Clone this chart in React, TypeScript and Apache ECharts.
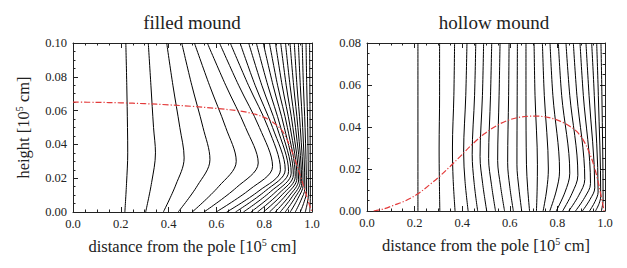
import React, { useEffect, useRef } from 'react';
import * as echarts from 'echarts';

const panelTitles = ['filled mound', 'hollow mound'];
const xAxisTitle = '{n|distance from the pole [10}{s|5}{n| cm]}';
const yAxisTitle = '{n|height [10}{s|5}{n| cm]}';
const xTickLabels = ['0.0', '0.2', '0.4', '0.6', '0.8', '1.0'];
const yTickLabelsFilled = ['0.00', '0.02', '0.04', '0.06', '0.08', '0.10'];
const yTickLabelsHollow = ['0.00', '0.02', '0.04', '0.06', '0.08'];

// filled mound: field lines, [distance, height]
const filledLines: number[][][] = [
  [[0.221, 0.1], [0.225, 0.075], [0.228, 0.05], [0.229, 0.035], [0.224, 0.017], [0.217, 0]],
  [[0.315, 0.1], [0.326, 0.075], [0.337, 0.05], [0.345, 0.035], [0.329, 0.0175], [0.304, 0]],
  [[0.392, 0.1], [0.418, 0.075], [0.447, 0.05], [0.465, 0.032], [0.43, 0.016], [0.378, 0]],
  [[0.455, 0.1], [0.497, 0.075], [0.544, 0.05], [0.573, 0.031], [0.52, 0.0155], [0.44, 0]],
  [[0.508, 0.1], [0.571, 0.075], [0.639, 0.05], [0.683, 0.03], [0.609, 0.015], [0.499, 0]],
  [[0.562, 0.1], [0.639, 0.075], [0.722, 0.05], [0.775, 0.029], [0.684, 0.0145], [0.548, 0]],
  [[0.613, 0.1], [0.693, 0.075], [0.78, 0.05], [0.835, 0.027], [0.741, 0.0135], [0.599, 0]],
  [[0.658, 0.1], [0.734, 0.075], [0.816, 0.05], [0.868, 0.025], [0.778, 0.0125], [0.643, 0]],
  [[0.699, 0.1], [0.762, 0.075], [0.835, 0.05], [0.888, 0.025], [0.805, 0.0125], [0.68, 0]],
  [[0.735, 0.1], [0.79, 0.075], [0.854, 0.05], [0.902, 0.024], [0.826, 0.012], [0.713, 0]],
  [[0.767, 0.1], [0.815, 0.075], [0.869, 0.05], [0.913, 0.023], [0.845, 0.0115], [0.744, 0]],
  [[0.796, 0.1], [0.837, 0.075], [0.884, 0.05], [0.922, 0.022], [0.862, 0.011], [0.772, 0]],
  [[0.822, 0.1], [0.856, 0.075], [0.897, 0.05], [0.93, 0.021], [0.877, 0.0105], [0.797, 0]],
  [[0.847, 0.1], [0.875, 0.075], [0.909, 0.05], [0.937, 0.02], [0.891, 0.01], [0.822, 0]],
  [[0.869, 0.1], [0.892, 0.075], [0.92, 0.05], [0.944, 0.019], [0.905, 0.0095], [0.846, 0]],
  [[0.889, 0.1], [0.908, 0.075], [0.931, 0.05], [0.951, 0.018], [0.917, 0.009], [0.867, 0]],
  [[0.908, 0.1], [0.923, 0.075], [0.941, 0.05], [0.957, 0.017], [0.929, 0.0085], [0.888, 0]],
  [[0.926, 0.1], [0.937, 0.075], [0.951, 0.05], [0.963, 0.016], [0.941, 0.008], [0.909, 0]],
  [[0.943, 0.1], [0.951, 0.075], [0.961, 0.05], [0.97, 0.014], [0.954, 0.007], [0.93, 0]],
  [[0.959, 0.1], [0.964, 0.075], [0.971, 0.05], [0.977, 0.012], [0.967, 0.006], [0.951, 0]],
  [[0.975, 0.1], [0.978, 0.075], [0.982, 0.05], [0.985, 0.01], [0.98, 0.005], [0.972, 0]],
  [[0.99, 0.1], [0.991, 0.075], [0.992, 0.05], [0.993, 0.008], [0.992, 0.004], [0.99, 0]],
];

const filledSurface: number[][] = [
  [0, 0.065], [0.1, 0.0649], [0.2, 0.0646], [0.3, 0.0641], [0.4, 0.0634], [0.5, 0.0625],
  [0.6, 0.0613], [0.7, 0.0597], [0.75, 0.0583], [0.8, 0.056], [0.84, 0.0527], [0.87, 0.049],
  [0.89, 0.0445], [0.91, 0.038], [0.93, 0.0305], [0.95, 0.022], [0.97, 0.013], [0.985, 0.006], [1.0, 0],
];

// hollow mound: field lines, [distance, height]
const hollowLines: number[][][] = [
  [[0.214, 0.08], [0.214, 0.055], [0.214, 0.03], [0.214, 0.015], [0.214, 0]],
  [[0.305, 0.08], [0.305, 0.055], [0.303, 0.03], [0.304, 0.015], [0.306, 0]],
  [[0.368, 0.08], [0.365, 0.055], [0.359, 0.03], [0.362, 0.015], [0.37, 0]],
  [[0.42, 0.08], [0.415, 0.055], [0.406, 0.028], [0.412, 0.014], [0.425, 0]],
  [[0.457, 0.08], [0.452, 0.055], [0.442, 0.027], [0.45, 0.0135], [0.465, 0]],
  [[0.49, 0.08], [0.485, 0.055], [0.475, 0.026], [0.486, 0.013], [0.503, 0]],
  [[0.524, 0.08], [0.519, 0.055], [0.511, 0.025], [0.523, 0.0125], [0.54, 0]],
  [[0.559, 0.08], [0.555, 0.055], [0.549, 0.024], [0.561, 0.012], [0.578, 0]],
  [[0.597, 0.08], [0.595, 0.055], [0.591, 0.023], [0.6, 0.0115], [0.615, 0]],
  [[0.632, 0.08], [0.631, 0.055], [0.63, 0.022], [0.638, 0.011], [0.65, 0]],
  [[0.668, 0.08], [0.668, 0.055], [0.67, 0.022], [0.675, 0.011], [0.683, 0]],
  [[0.702, 0.08], [0.706, 0.055], [0.716, 0.022], [0.715, 0.011], [0.712, 0]],
  [[0.737, 0.08], [0.745, 0.055], [0.762, 0.02], [0.755, 0.01], [0.74, 0]],
  [[0.769, 0.08], [0.781, 0.055], [0.809, 0.019], [0.795, 0.0095], [0.768, 0]],
  [[0.804, 0.08], [0.818, 0.055], [0.852, 0.018], [0.832, 0.009], [0.795, 0]],
  [[0.836, 0.08], [0.852, 0.055], [0.886, 0.017], [0.862, 0.0085], [0.822, 0]],
  [[0.867, 0.08], [0.882, 0.055], [0.915, 0.015], [0.89, 0.0075], [0.848, 0]],
  [[0.895, 0.08], [0.909, 0.055], [0.939, 0.013], [0.915, 0.0065], [0.876, 0]],
  [[0.92, 0.08], [0.933, 0.055], [0.957, 0.011], [0.937, 0.0055], [0.905, 0]],
  [[0.944, 0.08], [0.955, 0.055], [0.971, 0.009], [0.958, 0.0045], [0.935, 0]],
  [[0.965, 0.08], [0.972, 0.055], [0.982, 0.007], [0.975, 0.0035], [0.96, 0]],
  [[0.983, 0.08], [0.987, 0.055], [0.992, 0.005], [0.989, 0.0025], [0.985, 0]],
];

const hollowSurface: number[][] = [
  [0.028, 0], [0.07, 0.001], [0.112, 0.0027], [0.16, 0.0048], [0.214, 0.0082], [0.26, 0.0122],
  [0.305, 0.0165], [0.35, 0.0213], [0.392, 0.026], [0.44, 0.0315], [0.49, 0.0365], [0.55, 0.041],
  [0.6, 0.0435], [0.65, 0.0448], [0.706, 0.0452], [0.76, 0.0446], [0.811, 0.0428], [0.85, 0.0405],
  [0.88, 0.038], [0.91, 0.0335], [0.937, 0.027], [0.955, 0.021], [0.97, 0.0145], [0.982, 0.008],
  [0.992, 0.0025], [0.996, 0],
];

const FONT = 'Liberation Serif';
const INK = '#222';
const RED = '#e33a3a';

const richName = {
  n: { fontFamily: FONT, fontSize: 16.5, color: INK, lineHeight: 18 },
  s: { fontFamily: FONT, fontSize: 10, color: INK, lineHeight: 10, verticalAlign: 'top' },
};

function makeXAxes(gridIndex: number) {
  const common = {
    type: 'value',
    gridIndex,
    min: 0,
    max: 1,
    interval: 0.2,
    axisLine: { show: true, onZero: false, lineStyle: { color: INK, width: 1 } },
    axisTick: { show: true, inside: true, length: 5, lineStyle: { color: INK, width: 1 } },
    minorTick: { show: true, splitNumber: 4, length: 2.5, lineStyle: { color: INK, width: 1 } },
    splitLine: { show: false },
  };
  return [
    {
      ...common,
      position: 'bottom',
      axisLabel: {
        show: true,
        margin: 5,
        fontFamily: FONT,
        fontSize: 12.5,
        color: INK,
        formatter: (v: number) => xTickLabels[Math.round(v / 0.2)] ?? '',
      },
      name: xAxisTitle,
      nameLocation: 'middle',
      nameGap: 25,
      nameTextStyle: { fontFamily: FONT, rich: richName },
    },
    { ...common, position: 'top', axisLabel: { show: false } },
  ];
}

function makeYAxes(gridIndex: number, max: number, labels: string[], withName: boolean) {
  const common = {
    type: 'value',
    gridIndex,
    min: 0,
    max,
    interval: 0.02,
    axisLine: { show: true, onZero: false, lineStyle: { color: INK, width: 1 } },
    axisTick: { show: true, inside: true, length: 5, lineStyle: { color: INK, width: 1 } },
    minorTick: { show: true, splitNumber: 4, length: 2.5, lineStyle: { color: INK, width: 1 } },
    splitLine: { show: false },
  };
  const left: any = {
    ...common,
    position: 'left',
    axisLabel: {
      show: true,
      margin: 6,
      fontFamily: FONT,
      fontSize: 12.5,
      color: INK,
      formatter: (v: number) => labels[Math.round(v / 0.02)] ?? '',
    },
  };
  if (withName) {
    left.name = yAxisTitle;
    left.nameLocation = 'middle';
    left.nameRotate = 90;
    left.nameGap = 41;
    left.nameTextStyle = { fontFamily: FONT, rich: richName };
  }
  return [left, { ...common, position: 'right', axisLabel: { show: false } }];
}

function lineSeries(data: number[][], axisIndex: number, color: string, dashed: boolean) {
  return {
    type: 'line',
    xAxisIndex: axisIndex,
    yAxisIndex: axisIndex,
    data,
    smooth: 0.35,
    showSymbol: false,
    symbol: 'none',
    clip: true,
    silent: true,
    lineStyle: dashed
      ? { color, width: 1.2, type: [6, 2, 1.2, 2] }
      : { color, width: 1 },
    z: dashed ? 5 : 2,
  };
}

const titleText = (text: string, x: number) => ({
  type: 'text',
  x,
  y: 22,
  style: {
    text,
    fontFamily: FONT,
    fontSize: 19,
    fill: INK,
    align: 'center',
    verticalAlign: 'middle',
    textAlign: 'center',
    textVerticalAlign: 'middle',
  },
});

const option: any = {
  animation: false,
  backgroundColor: '#ffffff',
  textStyle: { fontFamily: FONT },
  grid: [
    { left: 73, top: 43, width: 239, height: 169 },
    { left: 367, top: 43, width: 238, height: 168 },
  ],
  xAxis: [...makeXAxes(0), ...makeXAxes(1)],
  yAxis: [
    ...makeYAxes(0, 0.1, yTickLabelsFilled, true),
    ...makeYAxes(1, 0.08, yTickLabelsHollow, false),
  ],
  graphic: [titleText(panelTitles[0], 192), titleText(panelTitles[1], 494)],
  series: [
    ...filledLines.map((d) => lineSeries(d, 0, '#000', false)),
    lineSeries(filledSurface, 0, RED, true),
    ...hollowLines.map((d) => lineSeries(d, 2, '#000', false)),
    lineSeries(hollowSurface, 2, RED, true),
  ],
};

export default function App() {
  const ref = useRef<HTMLDivElement>(null);
  useEffect(() => {
    if (!ref.current) return;
    const chart = echarts.init(ref.current, null, { renderer: 'svg' });
    chart.setOption(option);
    return () => chart.dispose();
  }, []);
  return (
    <div
      ref={ref}
      style={{ position: 'absolute', left: 0, top: 0, width: 627, height: 268, background: '#fff' }}
    />
  );
}
